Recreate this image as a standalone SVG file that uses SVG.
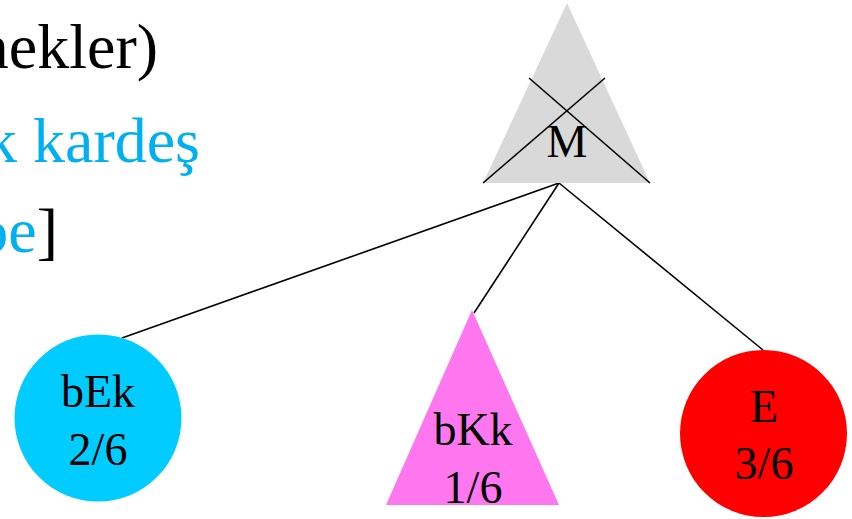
<svg xmlns="http://www.w3.org/2000/svg" width="852" height="519" viewBox="0 0 852 519">
<style>
.t{font-family:"Liberation Serif","Times New Roman",serif;}
.big{font-size:64px;}
.lbl{font-size:46px;text-anchor:middle;fill:#000;}
.edge{stroke:#000;stroke-width:1.6;fill:none;}
</style>
<rect width="852" height="519" fill="#fff"/>
<g id="text-left" class="t big">
<text x="158" y="68" text-anchor="end" fill="#000">nekler)</text>
<text x="200" y="162" text-anchor="end" fill="#00b0f0">k kardeş</text>
<text x="58" y="252" text-anchor="end"><tspan fill="#00b0f0">pe</tspan><tspan fill="#000">]</tspan></text>
</g>
<g id="connectors">
<line class="edge" x1="559" y1="183" x2="122" y2="338"/>
<line class="edge" x1="559" y1="183" x2="474" y2="313"/>
<line class="edge" x1="559" y1="183" x2="763" y2="350"/>
</g>
<g id="node-M">
<polygon points="567,3 483,183 650,183" fill="#d9d9d9"/>
<line class="edge" x1="529" y1="78" x2="650" y2="183"/>
<line class="edge" x1="605" y1="78" x2="483" y2="183"/>
<text class="t lbl" x="567" y="157">M</text>
</g>
<g id="node-bEk">
<circle cx="98" cy="418" r="83.5" fill="#00ccff"/>
<text class="t lbl" x="98" y="407">bEk</text>
<text class="t lbl" x="98" y="465">2/6</text>
</g>
<g id="node-bKk">
<polygon points="472,310 386,505 559,505" fill="#ff77ee"/>
<text class="t lbl" x="473" y="445">bKk</text>
<text class="t lbl" x="473" y="503">1/6</text>
</g>
<g id="node-E">
<circle cx="763.5" cy="433.5" r="83.5" fill="#ff0000"/>
<text class="t lbl" x="764" y="422">E</text>
<text class="t lbl" x="764" y="479">3/6</text>
</g>
</svg>
